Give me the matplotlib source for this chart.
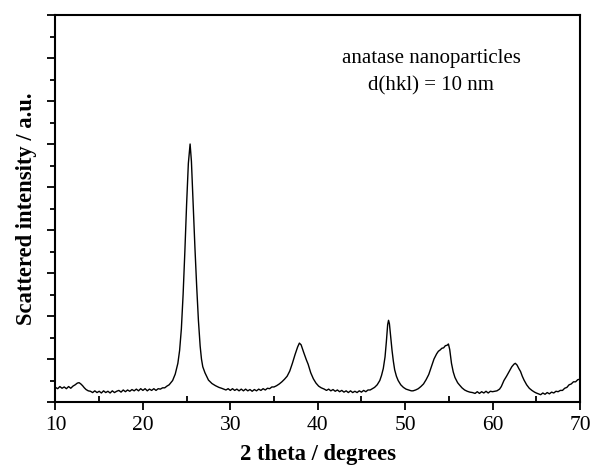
import matplotlib
matplotlib.use("Agg")
import matplotlib.pyplot as plt
from matplotlib.ticker import MultipleLocator, NullFormatter

# 2 theta (degrees) and scattered intensity (a.u.)
two_theta = [
    10.0, 10.25, 10.5, 10.75, 11.0, 11.25, 11.5, 11.75, 12.0, 12.25, 12.5, 12.7,
    12.9, 13.1, 13.3, 13.5, 13.75, 14.0, 14.25, 14.5, 14.75, 15.0, 15.25, 15.5,
    15.75, 16.0, 16.25, 16.5, 16.75, 17.0, 17.25, 17.5, 17.75, 18.0, 18.25, 18.5,
    18.75, 19.0, 19.25, 19.5, 19.75, 20.0, 20.25, 20.5, 20.75, 21.0, 21.25, 21.5,
    21.75, 22.0, 22.25, 22.5, 22.75, 23.0, 23.4, 23.7, 24.0, 24.2, 24.4, 24.6,
    24.8, 25.0, 25.2, 25.4, 25.55, 25.75, 25.95, 26.15, 26.35, 26.55, 26.7, 26.85,
    27.1, 27.5, 27.9, 28.3, 28.7, 29.0, 29.25, 29.5, 29.75, 30.0, 30.25, 30.5,
    30.75, 31.0, 31.25, 31.5, 31.75, 32.0, 32.25, 32.5, 32.75, 33.0, 33.25, 33.5,
    33.75, 34.0, 34.25, 34.5, 34.75, 35.0, 35.3, 35.6, 35.9, 36.2, 36.5, 36.8,
    37.1, 37.4, 37.7, 37.9, 38.1, 38.4, 38.7, 38.9, 39.2, 39.5, 39.8, 40.1,
    40.4, 40.75, 41.0, 41.25, 41.5, 41.75, 42.0, 42.25, 42.5, 42.75, 43.0, 43.25,
    43.5, 43.75, 44.0, 44.25, 44.5, 44.75, 45.0, 45.25, 45.5, 45.75, 46.0, 46.25,
    46.5, 46.8, 47.1, 47.3, 47.5, 47.7, 47.85, 48.0, 48.1, 48.2, 48.35, 48.5,
    48.65, 48.8, 49.0, 49.2, 49.5, 49.8, 50.1, 50.4, 50.7, 50.9, 51.2, 51.5,
    51.8, 52.1, 52.4, 52.7, 53.0, 53.3, 53.6, 53.8, 54.0, 54.2, 54.4, 54.6,
    54.8, 54.95, 55.1, 55.3, 55.5, 55.7, 56.0, 56.2, 56.5, 56.8, 57.1, 57.4,
    57.7, 58.0, 58.25, 58.5, 58.75, 59.0, 59.25, 59.5, 59.75, 60.0, 60.25, 60.5,
    60.8, 61.0, 61.3, 61.6, 61.9, 62.2, 62.45, 62.6, 62.8, 63.0, 63.2, 63.4,
    63.6, 63.9, 64.2, 64.5, 64.8, 65.0, 65.25, 65.5, 65.75, 66.0, 66.25, 66.5,
    66.75, 67.0, 67.25, 67.5, 67.75, 68.0, 68.25, 68.5, 68.75, 69.0, 69.25, 69.5,
    69.75, 70.0,
]
intensity = [
    0.34, 0.31, 0.36, 0.32, 0.35, 0.31, 0.36, 0.32, 0.37, 0.40, 0.44, 0.45,
    0.42, 0.38, 0.33, 0.29, 0.26, 0.25, 0.22, 0.26, 0.22, 0.25, 0.21, 0.26,
    0.22, 0.25, 0.21, 0.26, 0.22, 0.25, 0.27, 0.23, 0.28, 0.24, 0.28, 0.25,
    0.29, 0.26, 0.30, 0.26, 0.31, 0.27, 0.31, 0.26, 0.30, 0.27, 0.31, 0.27,
    0.31, 0.30, 0.33, 0.33, 0.37, 0.40, 0.50, 0.65, 0.90, 1.20, 1.70, 2.50,
    3.50, 4.60, 5.55, 6.00, 5.60, 4.60, 3.60, 2.70, 1.90, 1.30, 1.00, 0.82,
    0.68, 0.51, 0.43, 0.38, 0.34, 0.32, 0.30, 0.28, 0.31, 0.27, 0.31, 0.27,
    0.30, 0.26, 0.30, 0.26, 0.30, 0.26, 0.29, 0.25, 0.29, 0.26, 0.30, 0.27,
    0.31, 0.28, 0.32, 0.31, 0.35, 0.35, 0.38, 0.42, 0.47, 0.53, 0.60, 0.72,
    0.90, 1.10, 1.28, 1.37, 1.33, 1.15, 0.98, 0.88, 0.68, 0.54, 0.44, 0.37,
    0.33, 0.30, 0.27, 0.30, 0.26, 0.29, 0.25, 0.28, 0.24, 0.27, 0.23, 0.26,
    0.22, 0.26, 0.22, 0.25, 0.22, 0.26, 0.23, 0.27, 0.24, 0.28, 0.28, 0.31,
    0.34, 0.40, 0.50, 0.62, 0.78, 1.05, 1.40, 1.80, 1.90, 1.82, 1.50, 1.20,
    0.95, 0.75, 0.60, 0.50, 0.40, 0.34, 0.30, 0.28, 0.26, 0.26, 0.28, 0.31,
    0.36, 0.42, 0.52, 0.64, 0.82, 1.00, 1.12, 1.18, 1.21, 1.25, 1.26, 1.31,
    1.32, 1.35, 1.22, 0.90, 0.70, 0.57, 0.45, 0.40, 0.33, 0.28, 0.25, 0.23,
    0.22, 0.20, 0.24, 0.20, 0.24, 0.21, 0.25, 0.21, 0.25, 0.24, 0.25, 0.26,
    0.30, 0.36, 0.50, 0.60, 0.71, 0.82, 0.88, 0.90, 0.86, 0.78, 0.71, 0.60,
    0.51, 0.40, 0.32, 0.27, 0.23, 0.21, 0.19, 0.17, 0.21, 0.18, 0.22, 0.19,
    0.23, 0.21, 0.25, 0.24, 0.27, 0.27, 0.32, 0.34, 0.40, 0.42, 0.47, 0.47,
    0.52, 0.53,
]

x_ticks = [10, 20, 30, 40, 50, 60, 70]
x_tick_labels = ["10", "20", "30", "40", "50", "60", "70"]
x_label = "2 theta / degrees"
y_label = "Scattered intensity / a.u."
note_lines = ["anatase nanoparticles", "d(hkl) = 10 nm"]

plt.rcParams["font.family"] = ["Liberation Serif", "DejaVu Serif"]

fig = plt.figure(figsize=(5.94, 4.66), dpi=100)
ax = fig.add_axes([0.0934, 0.1373, 0.9764 - 0.0934, 0.9678 - 0.1373])

ax.plot(two_theta, intensity, color="black", lw=1.0)

ax.set_xlim(10, 70)
ax.set_ylim(0, 9)

ax.set_xticks(x_ticks)
ax.set_xticklabels(x_tick_labels, fontsize=15.5)
ax.xaxis.set_minor_locator(MultipleLocator(5))
ax.yaxis.set_major_locator(MultipleLocator(1))
ax.yaxis.set_minor_locator(MultipleLocator(0.5))
ax.yaxis.set_major_formatter(NullFormatter())

ax.tick_params(axis="x", which="major", direction="out", length=6, width=1.3, pad=4)
ax.tick_params(axis="x", which="minor", direction="in", length=4, width=1.3)
ax.tick_params(axis="y", which="major", direction="out", length=6, width=1.3)
ax.tick_params(axis="y", which="minor", direction="out", length=3.5, width=1.3)
ax.tick_params(top=False, right=False, which="both")

for s in ax.spines.values():
    s.set_linewidth(1.5)

ax.set_xlabel(x_label, fontsize=16.3, fontweight="bold", labelpad=6.5)
ax.set_ylabel(y_label, fontsize=16.3, fontweight="bold", labelpad=4)

ax.text(0.716, 0.876, note_lines[0], transform=ax.transAxes, ha="center",
        va="baseline", fontsize=15)
ax.text(0.716, 0.806, note_lines[1], transform=ax.transAxes, ha="center",
        va="baseline", fontsize=15)

fig.savefig("out.png", dpi=100)
